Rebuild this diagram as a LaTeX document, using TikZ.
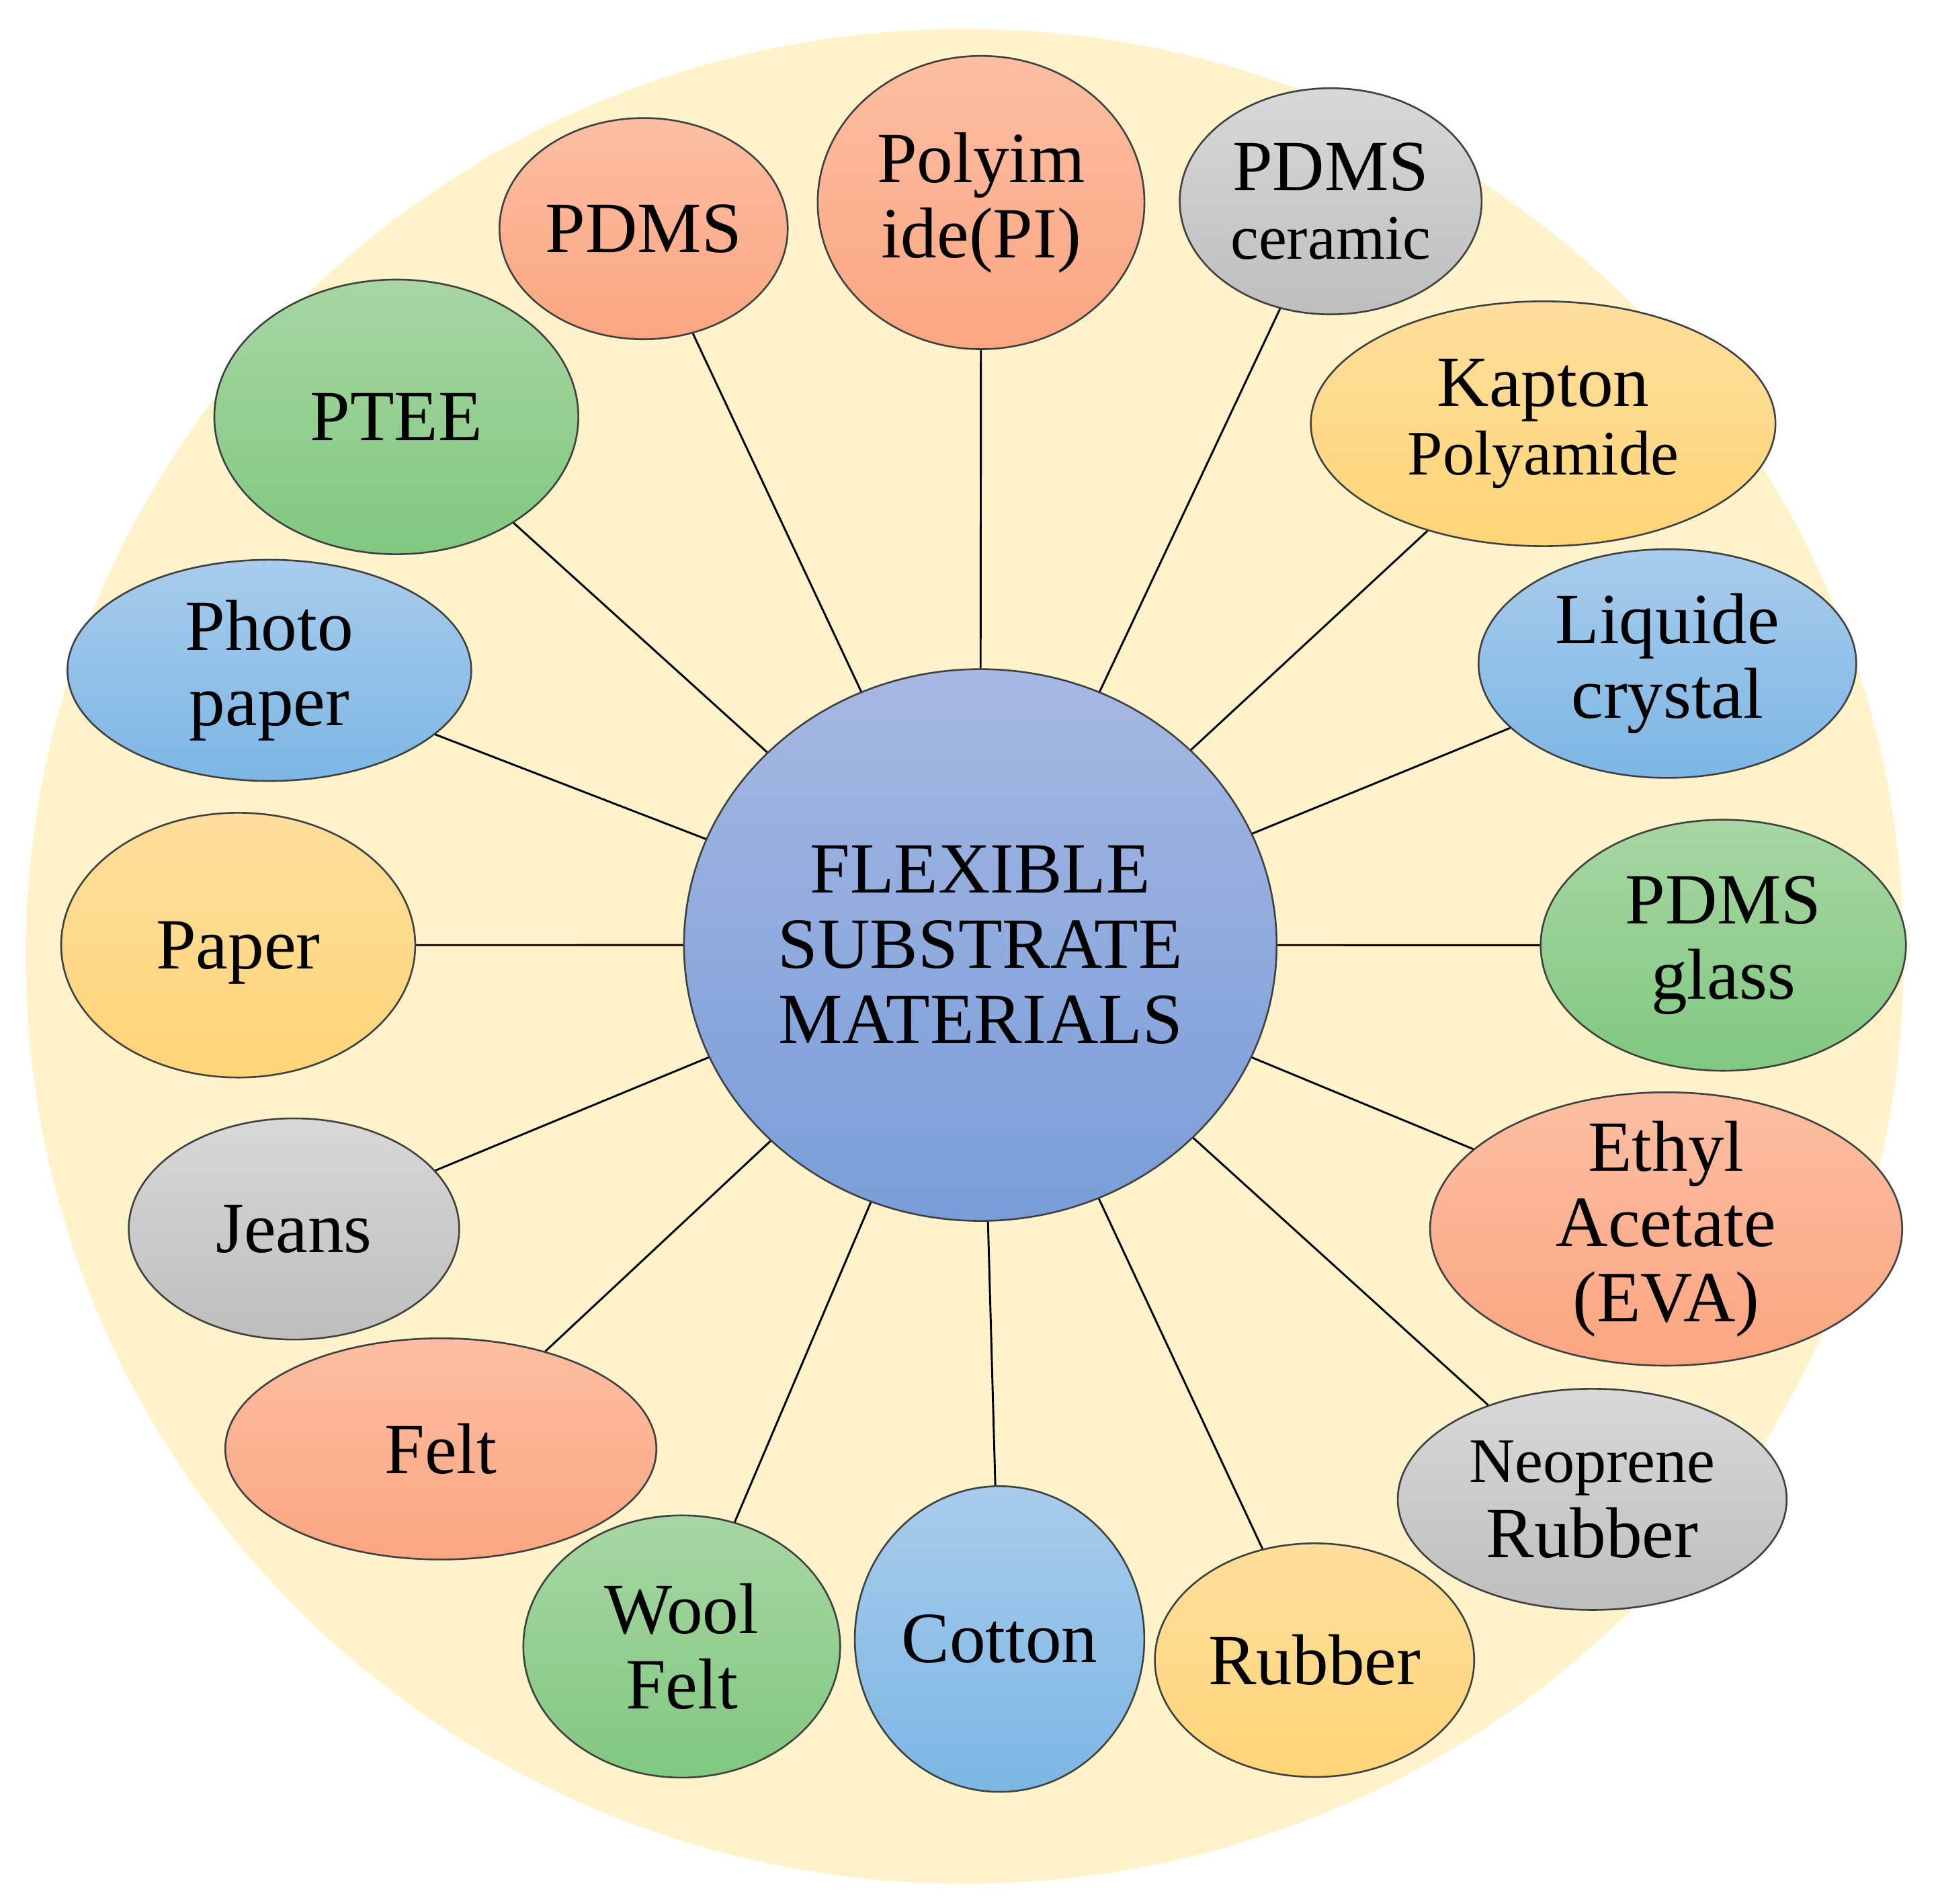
\documentclass[tikz,border=0pt]{standalone}
\usepackage{fontspec}
\setmainfont{Liberation Serif}
\usetikzlibrary{shapes.geometric}
\definecolor{bgfill}{RGB}{255,243,204}
\definecolor{hubT}{RGB}{166,184,226}
\definecolor{hubB}{RGB}{121,157,217}
\definecolor{salmonT}{RGB}{252,190,162}
\definecolor{salmonB}{RGB}{251,166,129}
\definecolor{yellowT}{RGB}{254,222,156}
\definecolor{yellowB}{RGB}{255,213,120}
\definecolor{blueT}{RGB}{168,204,236}
\definecolor{blueB}{RGB}{124,182,228}
\definecolor{grayT}{RGB}{216,216,216}
\definecolor{grayB}{RGB}{190,190,190}
\definecolor{greenT}{RGB}{168,214,164}
\definecolor{greenB}{RGB}{128,200,128}
\newcommand{\smalltxt}[1]{{\fontsize{14.5}{15.7}\selectfont #1}}
\tikzset{
	bub/.style={ellipse, draw=black!75, line width=0.4pt, inner sep=-1cm, align=center,
		font=\fontsize{16.5}{17.2}\selectfont},
	salmon/.style={bub, top color=salmonT, bottom color=salmonB},
	yellow/.style={bub, top color=yellowT, bottom color=yellowB},
	blue/.style={bub, top color=blueT, bottom color=blueB},
	gray/.style={bub, top color=grayT, bottom color=grayB},
	green/.style={bub, top color=greenT, bottom color=greenB},
	link/.style={line width=0.45pt, black}
}

\begin{document}
\begin{tikzpicture}
				\useasboundingbox (0, 0) rectangle (15.598, -15.322);
				\fill[bgfill] (7.764, -7.696) ellipse (7.558 and 7.463);
				
				% hub
				\node[bub, top color=hubT, bottom color=hubB, minimum width=4.77cm, minimum height=4.44cm] (hub) at (7.89, -7.605) {FLEXIBLE\\SUBSTRATE\\MATERIALS};
				
				% upper half
				\node[salmon, minimum width=2.32cm, minimum height=1.78cm] (pdms) at (5.18, -1.84) {PDMS};
				\node[salmon, minimum width=2.63cm, minimum height=2.36cm] (polyimide) at (7.896, -1.63) {Polyim\\ide(PI)};
				\node[gray, minimum width=2.43cm, minimum height=1.82cm] (ceramic) at (10.71, -1.62) {PDMS\\[-1.5pt]\smalltxt{ceramic}};
				\node[yellow, minimum width=3.74cm, minimum height=1.97cm] (kapton) at (12.42, -3.41) {Kapton\\[-1.5pt]\smalltxt{Polyamide}};
				\node[blue, minimum width=3.04cm, minimum height=1.84cm] (liquid) at (13.42, -5.34) {Liquide\\crystal};
				\node[green, minimum width=2.94cm, minimum height=2.02cm] (glass) at (13.87, -7.607) {PDMS\\glass};
				\node[green, minimum width=2.93cm, minimum height=2.21cm] (ptee) at (3.19, -3.355) {PTEE};
				\node[blue, minimum width=3.25cm, minimum height=1.78cm] (photo) at (2.168, -5.395) {Photo\\paper};
				\node[yellow, minimum width=2.85cm, minimum height=2.13cm, text depth=0pt] (paper) at (1.917, -7.606) {Paper};
				
				% lower half
				\node[salmon, minimum width=3.80cm, minimum height=2.20cm] (eva) at (13.41, -9.89) {Ethyl\\Acetate\\(EVA)};
				\node[gray, minimum width=3.13cm, minimum height=1.78cm] (neoprene) at (12.815, -12.066) {\smalltxt{Neoprene}\\Rubber};
				\node[yellow, minimum width=2.57cm, minimum height=1.88cm] (rubber) at (10.58, -13.36) {Rubber};
				\node[blue, minimum width=2.33cm, minimum height=2.46cm] (cotton) at (8.045, -13.19) {Cotton};
				\node[green, minimum width=2.55cm, minimum height=2.11cm] (wool) at (5.487, -13.25) {Wool\\Felt};
				\node[salmon, minimum width=3.47cm, minimum height=1.78cm] (felt) at (3.548, -11.66) {Felt};
				\node[gray, minimum width=2.66cm, minimum height=1.78cm] (jeans) at (2.366, -9.89) {Jeans};
				
				\foreach \n in {pdms, polyimide, ceramic, kapton, liquid, glass, eva, neoprene,
					rubber, cotton, wool, felt, jeans, paper, photo, ptee}
					\draw[link] (hub) -- (\n);
\end{tikzpicture}
\end{document}
